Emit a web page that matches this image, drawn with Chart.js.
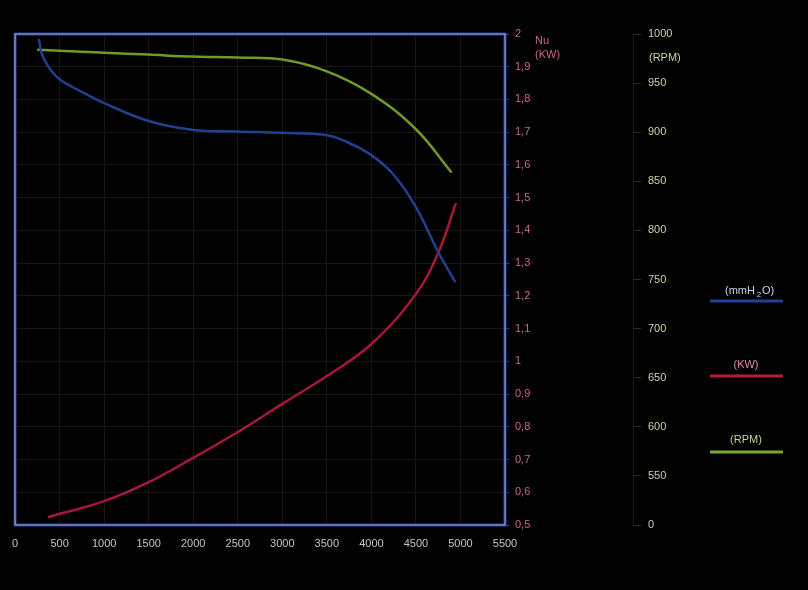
<!DOCTYPE html>
<html>
<head>
<meta charset="utf-8">
<script src="https://cdn.jsdelivr.net/npm/chart.js@4/dist/chart.umd.min.js"></script>
<style>
  body { margin: 0; background: #000; }
  #wrap { width: 808px; height: 590px; }
</style>
</head>
<body>
<div id="wrap"><canvas id="fanChart"></canvas></div>
<script>
// flow values (x axis)
const xTicks = [0, 500, 1000, 1500, 2000, 2500, 3000, 3500, 4000, 4500, 5000, 5500];

// pressure curve (mmH2O, left axis - labels not visible)
const pressX = [268, 300, 380, 500, 750, 1000, 1500, 2000, 2500, 3000, 3500, 3750, 4000, 4250, 4500, 4750, 4942];
const pressY = [148.5, 144.0, 139.8, 136.2, 132.3, 128.9, 123.4, 120.7, 120.2, 119.8, 119.1, 116.7, 113.0, 107.0, 97.1, 83.4, 74.2];

// power curve (KW)
const powerX = [369, 1000, 1500, 2000, 2500, 3000, 3500, 4000, 4500, 4750, 4950];
const powerY = [0.524, 0.573, 0.631, 0.705, 0.784, 0.870, 0.955, 1.053, 1.206, 1.331, 1.484];

// speed curve (RPM)
const rpmX = [250, 1000, 1500, 2000, 2500, 3000, 3500, 4000, 4500, 4900];
const rpmY = [984, 981, 979, 977, 976, 974, 962, 939, 903, 859];

function pts(xs, ys) {
    return xs.map((x, i) => ({ x: x, y: ys[i] }));
}

function line(xs, ys, color, width, axis) {
    return {
        data: pts(xs, ys),
        borderColor: color,
        borderWidth: width,
        pointRadius: 0,
        tension: 0.4,
        yAxisID: axis,
        fill: false
    };
}

// frame around the plot plus the text labels on the right
const extras = {
    id: 'extras',
    afterDatasetsDraw(chart) {
        const ctx = chart.ctx;
        const a = chart.chartArea;
        ctx.save();
        ctx.strokeStyle = '#2b3f96';
        ctx.lineWidth = 3;
        ctx.strokeRect(a.left, a.top, a.right - a.left, a.bottom - a.top);
        ctx.strokeStyle = '#9aaae0';
        ctx.lineWidth = 1;
        ctx.strokeRect(a.left, a.top, a.right - a.left, a.bottom - a.top);

        ctx.font = '11px "Liberation Sans", Arial, sans-serif';
        ctx.textBaseline = 'middle';
        ctx.fillStyle = '#c86a7c';
        ctx.fillText('Nu', 535, 41);
        ctx.fillText('(KW)', 535, 55);
        ctx.fillStyle = '#c4d4b0';
        ctx.fillText('(RPM)', 649, 58);

        // legend
        ctx.textAlign = 'center';
        ctx.fillStyle = '#c8d0ec';
        ctx.fillText('(mmH', 740, 291);
        ctx.font = '8px "Liberation Sans", Arial, sans-serif';
        ctx.fillText('2', 759, 295);
        ctx.font = '11px "Liberation Sans", Arial, sans-serif';
        ctx.fillText('O)', 768, 291);
        ctx.fillStyle = '#e0889a';
        ctx.fillText('(KW)', 746, 365);
        ctx.fillStyle = '#b8d890';
        ctx.fillText('(RPM)', 746, 440);

        const keys = [[301, '#203f9a'], [376, '#b81c34'], [452, '#78a830']];
        keys.forEach(k => {
            ctx.strokeStyle = k[1];
            ctx.lineWidth = 3;
            ctx.beginPath();
            ctx.moveTo(710, k[0]);
            ctx.lineTo(783, k[0]);
            ctx.stroke();
        });
        ctx.restore();
    }
};

const font = { family: '"Liberation Sans", Arial, sans-serif', size: 11 };

new Chart(document.getElementById('fanChart'), {
    type: 'line',
    data: {
        datasets: [
            line(pressX, pressY, '#22408f', 2.5, 'yP'),
            line(pressX, pressY, '#b8c4f0', 0.8, 'yP'),
            line(powerX, powerY, '#a8163a', 2.5, 'yN'),
            line(powerX, powerY, '#f0a0b0', 0.8, 'yN'),
            line(rpmX, rpmY, '#6f9a28', 2.5, 'yR'),
            line(rpmX, rpmY, '#c8e070', 0.8, 'yR')
        ]
    },
    options: {
        responsive: true,
        maintainAspectRatio: false,
        animation: false,
        layout: { padding: { left: 13, right: 108, top: 34, bottom: 0 } },
        plugins: {
            legend: { display: false },
            tooltip: { enabled: false }
        },
        scales: {
            x: {
                type: 'linear',
                min: 0,
                max: 5500,
                afterBuildTicks: (s) => { s.ticks = xTicks.map(v => ({ value: v })); },
                afterFit: (s) => { s.height = 65; },
                grid: { color: '#161616', drawTicks: false },
                border: { display: false },
                ticks: {
                    color: '#c4c4c4', font: font, padding: 12, maxRotation: 0,
                    callback: (v) => String(v)
                }
            },
            yP: {
                type: 'linear',
                position: 'left',
                display: false,
                min: 0,
                max: 150
            },
            yN: {
                type: 'linear',
                position: 'right',
                min: 0.5,
                max: 2,
                afterFit: (s) => { s.width = 128; },
                grid: { color: '#161616', tickLength: 4, tickColor: '#2b3f96' },
                border: { display: false },
                ticks: {
                    stepSize: 0.1,
                    color: '#c86a7c',
                    font: font,
                    padding: 6,
                    callback: (v) => String(+v.toFixed(1)).replace('.', ',')
                }
            },
            yR: {
                type: 'linear',
                position: 'right',
                min: 500,
                max: 1000,
                afterFit: (s) => { s.width = 67; },
                grid: { drawOnChartArea: false, tickLength: 8, color: '#2a2a2a' },
                border: { display: true, color: '#1c1c1c' },
                ticks: {
                    stepSize: 50,
                    color: '#c4d4b0',
                    font: font,
                    padding: 7,
                    callback: (v) => v === 500 ? '0' : String(v)
                }
            }
        }
    },
    plugins: [extras]
});
</script>
</body>
</html>
